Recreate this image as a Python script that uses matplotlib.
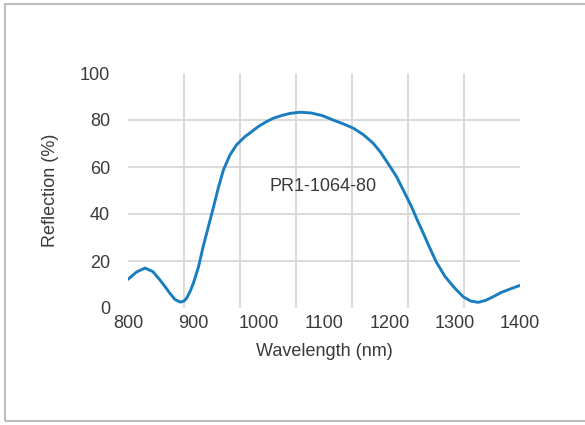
import numpy as np
import matplotlib
matplotlib.use("Agg")
import matplotlib.pyplot as plt
from matplotlib.patches import Rectangle

# reflection curve of the PR1-1064-80 mirror
wavelength = [800, 813, 826, 838, 849, 857, 864, 872, 880, 886, 890, 895,
              900, 908, 915, 923, 931, 938, 946, 956, 966, 979, 990, 1000,
              1010, 1022, 1035, 1048, 1063, 1080, 1097, 1114, 1130, 1145,
              1160, 1175, 1186, 1198, 1211, 1222, 1234, 1243, 1252, 1262,
              1272, 1285, 1298, 1313, 1324, 1336, 1347, 1359, 1372, 1386, 1400]
reflection = [12.2, 15.3, 17.0, 15.5, 11.9, 9.0, 6.3, 3.6, 2.5, 3.0, 4.3, 7.0,
              10.5, 17.6, 26.1, 34.6, 43.1, 50.9, 58.7, 65.1, 69.4, 72.9, 75.2, 77.3,
              79.0, 80.7, 81.9, 82.8, 83.3, 83.0, 81.9, 80.0, 78.3, 76.5,
              73.8, 70.2, 66.5, 61.5, 55.9, 49.8, 43.1, 37.3, 31.8, 25.5,
              19.5, 13.5, 9.1, 4.8, 3.0, 2.4, 3.2, 4.8, 6.7, 8.2, 9.6]

x_ticks = [800, 900, 1000, 1100, 1200, 1300, 1400]
y_ticks = [0, 20, 40, 60, 80, 100]
y_grid = [20, 40, 60, 80]
part_name = "PR1-1064-80"

plt.rcParams['font.family'] = ['Liberation Sans', 'DejaVu Sans']
text_color = '#3a3a3a'
grid_color = '#d4d4d4'

fig = plt.figure(figsize=(5.85, 4.25), dpi=100)
ax = fig.add_axes([128 / 585, 1 - 308 / 425, 392 / 585, 235 / 425])

ax.plot(wavelength, reflection, color='#1a7dc0', lw=2.1,
        solid_capstyle='round', solid_joinstyle='round', zorder=3)

ax.set_xlim(800, 1400)
ax.set_ylim(0, 100)
ax.set_xticks(x_ticks)
ax.set_yticks(y_ticks)
# the vertical grid splits the range into 7 equal parts
ax.set_xticks(np.linspace(800, 1400, 8)[1:-1], minor=True)
ax.grid(False)
ax.grid(True, which='minor', axis='x', color=grid_color, lw=1.2)
for g in y_grid:
    ax.axhline(g, color=grid_color, lw=1.2, zorder=1)
ax.tick_params(which='both', length=0)
ax.tick_params(axis='x', labelsize=13, labelcolor=text_color, pad=5)
ax.tick_params(axis='y', labelsize=13, labelcolor=text_color, pad=13)
for s in ax.spines.values():
    s.set_visible(False)

ax.set_xlabel('Wavelength (nm)', fontsize=13, color=text_color, labelpad=8)
ax.set_ylabel('Reflection (%)', fontsize=13, color=text_color, labelpad=15)
ax.text(1099, 51.5, part_name, fontsize=13, color=text_color, ha='center', va='center')

# light frame around the whole figure
fig.patches.append(Rectangle((4.5 / 585, 1 - 421 / 425), 1.2, 417.5 / 425,
                             transform=fig.transFigure, fill=False,
                             edgecolor='#bdbdbd', lw=1.5))

fig.savefig('out.png', dpi=100)
